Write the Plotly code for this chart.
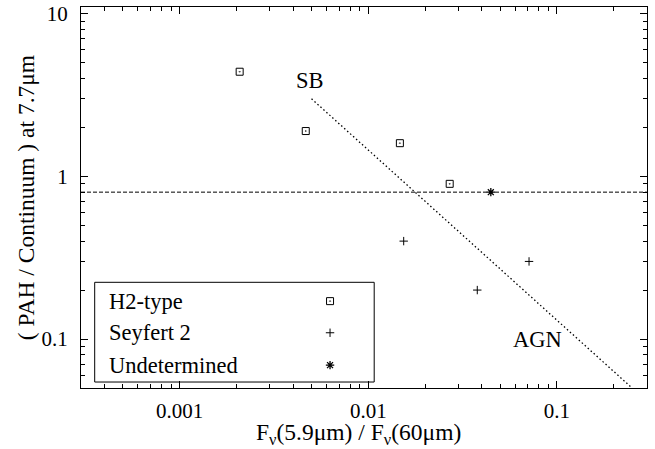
import math
import plotly.graph_objects as go

# Data
h2_x = [0.00208, 0.00466, 0.0147, 0.0270]
h2_y = [4.4, 1.90, 1.60, 0.90]
sy2_x = [0.0154, 0.0711, 0.0378]
sy2_y = [0.40, 0.30, 0.20]
und_x = [0.0446]
und_y = [0.80]
hline_y = 0.8
diag_x = [0.005, 0.25]
diag_y = [3.0, 0.05]
x_range = [0.0003, 0.3]
y_range = [0.05, 11]
x_tickvals = [0.001, 0.01, 0.1]
x_ticktext = ["0.001", "0.01", "0.1"]
y_tickvals = [0.1, 1, 10]
y_ticktext = ["0.1", "1", "10"]
legend_names = ["H2-type", "Seyfert 2", "Undetermined"]
labels = ["SB", "AGN"]
label_x = [0.0049, 0.0785]
label_y = [3.9, 0.1]
x_title = "F<sub>ν</sub>(5.9μm) / F<sub>ν</sub>(60μm)"
y_title = "( PAH / Continuum ) at 7.7μm"

FONT = "Liberation Serif"

fig = go.Figure()
fig.add_trace(go.Scatter(x=x_range, y=[hline_y, hline_y], mode="lines",
                         line=dict(color="black", width=1, dash="4px,2px"), showlegend=False))
fig.add_trace(go.Scatter(x=diag_x, y=diag_y, mode="lines",
                         line=dict(color="black", width=1.3, dash="1.5px,2.5px"), showlegend=False))

sq = dict(symbol="square-open-dot", size=7, color="black", line=dict(width=1, color="black"))
pl = dict(symbol="cross-thin", size=6, color="black", line=dict(width=1, color="black"))
ast = dict(symbol="asterisk", size=7, color="black", line=dict(width=1.3, color="black"))

fig.add_trace(go.Scatter(x=h2_x, y=h2_y, mode="markers", marker=sq, showlegend=False))
fig.add_trace(go.Scatter(x=sy2_x, y=sy2_y, mode="markers", marker=pl, showlegend=False))
fig.add_trace(go.Scatter(x=und_x, y=und_y, mode="markers", marker=ast, showlegend=False))

# Manual legend (text left, symbol right)
leg_y = [0.228, 0.145, 0.060]
fig.add_shape(type="rect", xref="paper", yref="paper", x0=0.0242, x1=0.518, y0=0.0157, y1=0.2774,
              line=dict(color="black", width=1), fillcolor="white", layer="below")
for name, yy in zip(legend_names, leg_y):
    fig.add_annotation(x=0.0454, y=yy, xref="paper", yref="paper", text=name, showarrow=False,
                       xanchor="left", yanchor="middle", font=dict(family=FONT, size=22.5, color="black"))
for mk, yy in zip([sq, pl, ast], leg_y):
    fig.add_trace(go.Scatter(x=[0.44], y=[yy], mode="markers", marker=mk, showlegend=False,
                             xaxis="x2", yaxis="y2"))

for t, lx, ly in zip(labels, label_x, label_y):
    fig.add_annotation(x=math.log10(lx), y=math.log10(ly), xref="x", yref="y", text=t, showarrow=False,
                       font=dict(family=FONT, size=22.5, color="black"), xanchor="center", yanchor="middle")

# x-axis title as annotation for precise placement
fig.add_annotation(x=0.49, y=-0.121, xref="paper", yref="paper", text=x_title, showarrow=False,
                   xanchor="center", yanchor="middle", font=dict(family=FONT, size=23.5, color="black"))

axis_common = dict(showgrid=False, zeroline=False, showline=True, linecolor="black", linewidth=1.3,
                   mirror="allticks", ticks="inside", ticklen=7, tickwidth=1, tickcolor="black",
                   tickfont=dict(family=FONT, size=21, color="black"), automargin=False,
                   minor=dict(ticks="inside", ticklen=4, tickwidth=1, tickcolor="black", dtick="D1", showgrid=False))

fig.update_layout(
    width=655, height=449,
    margin=dict(l=81, r=8, t=7, b=61),
    plot_bgcolor="white", paper_bgcolor="white",
    showlegend=False,
    font=dict(family=FONT, color="black"),
    xaxis=dict(type="log", range=[math.log10(x_range[0]), math.log10(x_range[1])],
               tickvals=x_tickvals, ticktext=x_ticktext,
               ticklabelstandoff=4, **axis_common),
    yaxis=dict(type="log", range=[math.log10(y_range[0]), math.log10(y_range[1])],
               tickvals=y_tickvals, ticktext=y_ticktext,
               title=dict(text=y_title, font=dict(family=FONT, size=23.5, color="black"), standoff=0),
               ticklabelstandoff=8, **axis_common),
    xaxis2=dict(range=[0, 1], overlaying="x", visible=False, fixedrange=True),
    yaxis2=dict(range=[0, 1], overlaying="y", visible=False, fixedrange=True),
)

fig.write_html("out.html", config={"displayModeBar": False},
               post_script="document.body.style.margin='0';document.body.style.overflow='hidden';")
